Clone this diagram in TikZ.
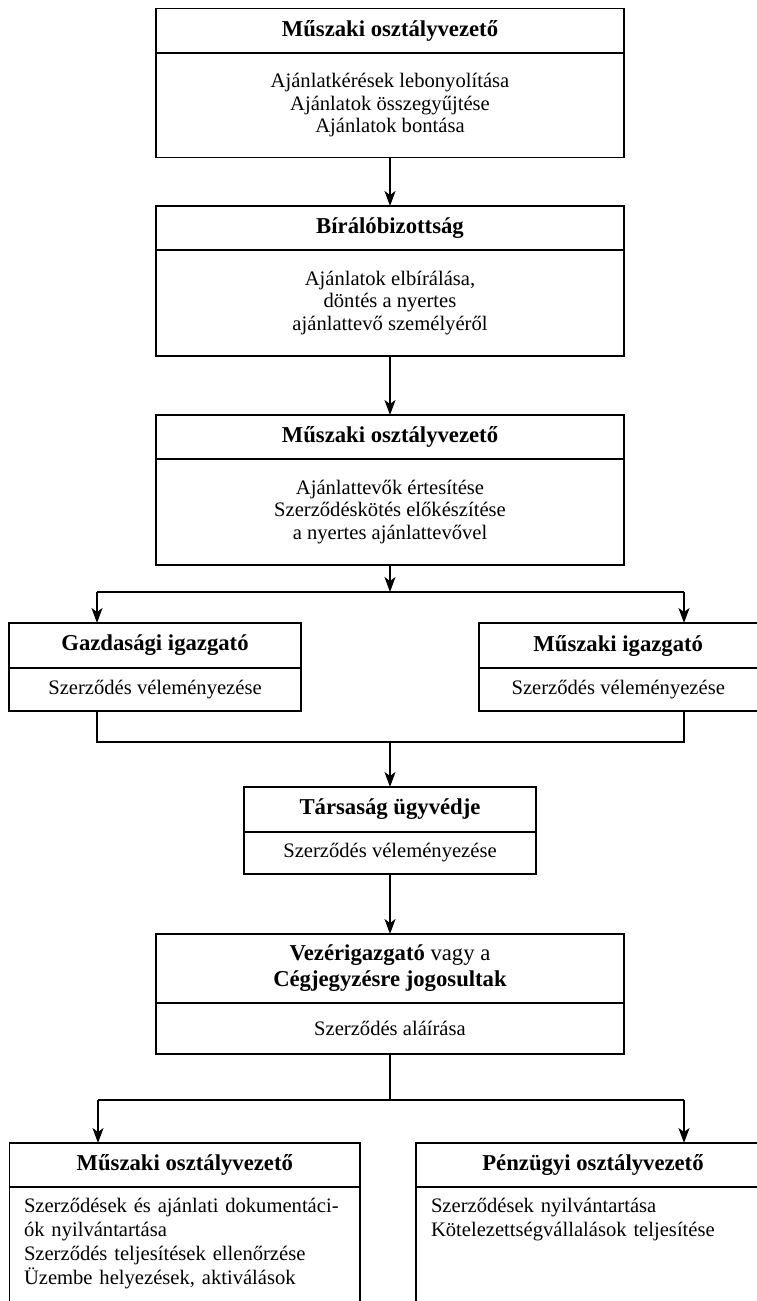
\documentclass[tikz,border=0pt]{standalone}
\usepackage{fontspec}
\setmainfont{Liberation Serif}
\usetikzlibrary{arrows.meta}
\newcommand\txtfont{\fontsize{20.6}{22.5}\selectfont}
\newcommand\hdrfont{\fontsize{22.7}{26}\selectfont}
\newcommand\txtfontb{\fontsize{20.6}{24}\selectfont}
\tikzset{
  hdr/.style={draw, line width=1.4pt, inner sep=0pt, outer sep=0pt, anchor=north west, align=center, font=\hdrfont\bfseries},
  bdy/.style={draw, line width=1.4pt, inner sep=0pt, outer sep=0pt, anchor=north west, align=center, font=\txtfont},
  sideline/.style={line width=1.4pt},
  divider/.style={line width=2.3pt},
  conn/.style={line width=1.4pt},
  arr/.style={conn, -{Stealth[length=15pt,width=11pt,inset=4pt]}},
  listtext/.style={inner sep=0pt, outer sep=0pt, anchor=north west, align=left, font=\txtfontb},
}
\begin{document}
\begin{tikzpicture}[x=1pt, y=-1pt]
\useasboundingbox[fill=white] (0,0) rectangle (756,1301);

% Box 1
\node[hdr, minimum width=468pt, minimum height=44.4pt] (b1h) at (156,8.3) {Műszaki osztályvezető};
\node[bdy, minimum width=468pt, minimum height=105pt] (b1b) at (b1h.south west) {Ajánlatkérések lebonyolítása\\Ajánlatok összegyűjtése\\Ajánlatok bontása};
\draw[divider] (b1h.south west) -- (b1h.south east);

% Box 2
\node[hdr, minimum width=468pt, minimum height=44pt] (b2h) at (156,206) {Bírálóbizottság};
\node[bdy, minimum width=468pt, minimum height=106pt] (b2b) at (b2h.south west) {Ajánlatok elbírálása,\\döntés a nyertes\\ajánlattevő személyéről};
\draw[divider] (b2h.south west) -- (b2h.south east);

% Box 3
\node[hdr, minimum width=468pt, minimum height=44pt] (b3h) at (156,415) {Műszaki osztályvezető};
\node[bdy, minimum width=468pt, minimum height=106pt] (b3b) at (b3h.south west) {Ajánlattevők értesítése\\Szerződéskötés előkészítése\\a nyertes ajánlattevővel};
\draw[divider] (b3h.south west) -- (b3h.south east);

\draw[arr] (b1b.south) -- (b2h.north);
\draw[arr] (b2b.south) -- (b3h.north);

% split 1
\coordinate (j1c) at (390,592);
\coordinate (j1l) at (97,592);
\coordinate (j1r) at (684,592);
\draw[arr] (b3b.south) -- (j1c);
\draw[conn] (j1l) -- (j1r);

% Gazdasagi / Muszaki igazgato
\node[hdr, minimum width=292pt, minimum height=45pt] (gh) at (9,623) {Gazdasági igazgató};
\node[bdy, minimum width=292pt, minimum height=43pt] (gb) at (gh.south west) {Szerződés véleményezése};
\draw[divider] (gh.south west) -- (gh.south east);

\node[hdr, minimum width=278.5pt, minimum height=45pt] (mh) at (479,623) {Műszaki igazgató};
\node[bdy, minimum width=278.5pt, minimum height=43pt] (mb) at (mh.south west) {Szerződés véleményezése};
\draw[divider] (mh.south west) -- (mh.south east);

\draw[arr] (j1l) -- (gh.north -| j1l);
\draw[arr] (j1r) -- (mh.north -| j1r);

% join 2
\coordinate (j2c) at (390,742);
\coordinate (j2l) at (97,742);
\coordinate (j2r) at (684,742);
\draw[conn] (gb.south -| j2l) -- (j2l) -- (j2r) -- (mb.south -| j2r);

% Tarsasag ugyvedje
\node[hdr, minimum width=292pt, minimum height=45pt] (th) at (244,787) {Társaság ügyvédje};
\node[bdy, minimum width=292pt, minimum height=42pt] (tb) at (th.south west) {Szerződés véleményezése};
\draw[divider] (th.south west) -- (th.south east);
\draw[arr] (j2c) -- (th.north);

% Vezerigazgato
\node[hdr, minimum width=468pt, minimum height=69pt, font=\hdrfont] (vh) at (156,934) {\textbf{Vezérigazgató} vagy a\\\textbf{Cégjegyzésre jogosultak}};
\node[bdy, minimum width=468pt, minimum height=51pt] (vb) at (vh.south west) {Szerződés aláírása};
\draw[divider] (vh.south west) -- (vh.south east);
\draw[arr] (tb.south) -- (vh.north);

% split 3
\coordinate (j3c) at (390,1100);
\coordinate (j3l) at (98,1100);
\coordinate (j3r) at (684,1100);
\draw[conn] (vb.south) -- (j3c);
\draw[conn] (j3l) -- (j3r);

% bottom boxes (open at the bottom)
\node[hdr, minimum width=350.4pt, minimum height=44pt] (lh) at (9.6,1143) {Műszaki osztályvezető};
\draw[sideline] (lh.south west) -- ++(0,170);
\draw[sideline] (lh.south east) -- ++(0,170);
\draw[divider] (lh.south west) -- (lh.south east);
\node[listtext, text width=326pt] (lt) at (24,1198) {\makebox[326pt][s]{Szerződések és ajánlati dokumentáci-}\\ók nyilvántartása\\Szerződés teljesítések ellenőrzése\\Üzembe helyezések, aktiválások};

\node[hdr, minimum width=354pt, minimum height=44pt] (rh) at (416,1143) {Pénzügyi osztályvezető};
\draw[sideline] (rh.south west) -- ++(0,170);
\draw[divider] (rh.south west) -- (rh.south east);
\node[listtext, text width=320pt] (rt) at (431,1198) {Szerződések nyilvántartása\\Kötelezettségvállalások teljesítése};

\draw[arr] (j3l) -- (lh.north -| j3l);
\draw[arr] (j3r) -- (rh.north -| j3r);
\end{tikzpicture}
\end{document}
